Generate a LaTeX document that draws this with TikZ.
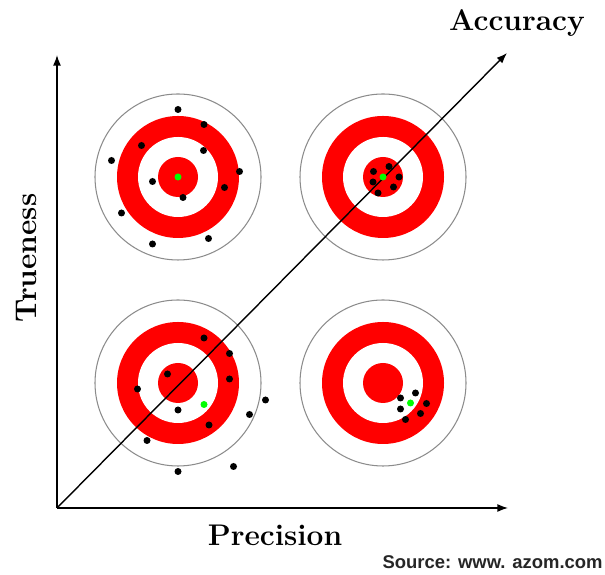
\documentclass[tikz,border=0pt]{standalone}
\usepackage{fontspec}
\newfontfamily\srcfont{Liberation Sans}
\usepackage{tikz}
\usetikzlibrary{arrows.meta, positioning, calc}
\usepackage{xcolor}
\definecolor{ringred}  {RGB}{255,   0,   0}
\definecolor{truegreen}{RGB}{  0, 255,   0}
\definecolor{rimgray}  {RGB}{140, 140, 140}

\tikzset{
  axis/.style={line width=0.8pt, -{Latex[length=6pt, width=4.5pt]}},
  axislabel/.style={font=\fontsize{17}{20}\selectfont\bfseries},
  hit/.style={fill=black},
  truth/.style={fill=truegreen}
}

\begin{document}
\begin{tikzpicture}
        \useasboundingbox (0,0) rectangle (12.1,11.5);

        % Target centres
        \coordinate (tl) at (3.56, 7.96);
        \coordinate (tr) at (7.66, 7.96);
        \coordinate (bl) at (3.56, 3.84);
        \coordinate (br) at (7.66, 3.84);

        % Targets
        \foreach \c in {tl, tr, bl, br} {
          \draw[rimgray, line width=0.6pt] (\c) circle (1.66);
          \fill[ringred] (\c) circle (1.22);
          \fill[white]   (\c) circle (0.80);
          \fill[ringred] (\c) circle (0.40);
        }

        % Axes
        \coordinate (O)    at (1.14, 1.34);
        \coordinate (ytip) at (1.14, 10.40);
        \coordinate (xtip) at (10.16, 1.34);
        \coordinate (atip) at (10.14, 10.44);
        \draw[axis] (O) -- (ytip);
        \draw[axis] (O) -- (xtip);
        \draw[axis] (O) -- (atip);

        % Shots: low trueness, low precision
        \foreach \dx/\dy in {0/1.35, 0.52/1.05, -0.73/0.63, 0.51/0.53,
                             -1.33/0.33, 1.23/0.11, -0.51/-0.09, 0.93/-0.21,
                             0.1/-0.41, -1.13/-0.72, 0.61/-1.23, -0.51/-1.34}
          \fill[hit] ($(tl)+(\dx,\dy)$) circle (0.07);
        \fill[truth] (tl) circle (0.07);

        % Shots: high trueness, high precision
        \foreach \dx/\dy in {0.12/0.21, -0.19/0.11, 0.32/0, -0.2/-0.1,
                             0.21/-0.2, -0.1/-0.32}
          \fill[hit] ($(tr)+(\dx,\dy)$) circle (0.07);
        \fill[truth] (tr) circle (0.07);

        % Shots: scattered about the bull
        \foreach \dx/\dy in {0.52/0.9, 1.03/0.59, -0.21/0.18, 1.03/0.08,
                             -0.81/-0.12, 1.75/-0.34, 0/-0.54, 1.43/-0.63,
                             0.62/-0.84, -0.62/-1.15, 1.11/-1.67, 0/-1.77}
          \fill[hit] ($(bl)+(\dx,\dy)$) circle (0.07);
        \fill[truth] ($(bl)+(0.52,-0.43)$) circle (0.07);

        % Shots: tight group off the bull
        \foreach \dx/\dy in {0.65/-0.2, 0.35/-0.3, 0.87/-0.41, 0.35/-0.52,
                             0.75/-0.61, 0.45/-0.73}
          \fill[hit] ($(br)+(\dx,\dy)$) circle (0.07);
        \fill[truth] ($(br)+(0.55,-0.4)$) circle (0.07);

        % Labels
        \node[axislabel] (accuracy) at (10.34, 11.04) {Accuracy};
        \node[axislabel] (precision) at (5.5, 0.8) {Precision};
        \node[axislabel, rotate=90] (trueness) at (0.52, 6.34) {Trueness};
        \node[font=\srcfont\fontsize{10.5}{12}\selectfont\bfseries,
              text=black!85, anchor=east, inner sep=0pt] (source)
          at (12.06, 0.26) {Source: www. azom.com};
      \end{tikzpicture}
\end{document}
